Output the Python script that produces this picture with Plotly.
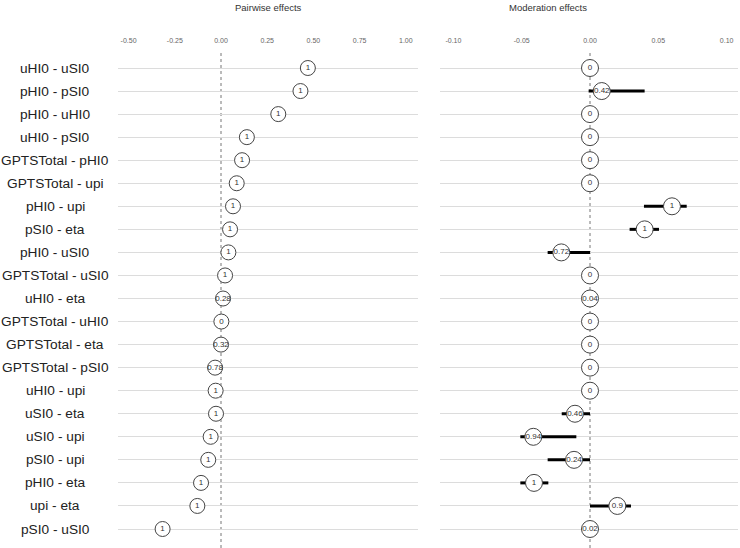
import plotly.graph_objects as go

W, H = 740, 548

pairs = ["uHI0 - uSI0", "pHI0 - pSI0", "pHI0 - uHI0", "uHI0 - pSI0", "GPTSTotal - pHI0",
         "GPTSTotal - upi", "pHI0 - upi", "pSI0 - eta", "pHI0 - uSI0", "GPTSTotal - uSI0",
         "uHI0 - eta", "GPTSTotal - uHI0", "GPTSTotal - eta", "GPTSTotal - pSI0", "uHI0 - upi",
         "uSI0 - eta", "uSI0 - upi", "pSI0 - upi", "pHI0 - eta", "upi - eta", "pSI0 - uSI0"]

pair_est = [0.47, 0.43, 0.31, 0.14, 0.114, 0.085, 0.065, 0.049, 0.04, 0.022,
            0.011, 0.002, 0.0, -0.032, -0.029, -0.027, -0.056, -0.069, -0.108, -0.128, -0.316]
pair_lab = ["1", "1", "1", "1", "1", "1", "1", "1", "1", "1",
            "0.28", "0", "0.32", "0.78", "1", "1", "1", "1", "1", "1", "1"]

mod_est = [0.0, 0.0086, 0.0, 0.0, 0.0, 0.0, 0.060, 0.040, -0.021, 0.0,
           0.0, 0.0, 0.0, 0.0, 0.0, -0.011, -0.0415, -0.0117, -0.041, 0.020, 0.0]
mod_lo = [0.0, -0.001, 0.0, 0.0, 0.0, 0.0, 0.0395, 0.029, -0.031, 0.0,
          0.0, 0.0, 0.0, 0.0, 0.0, -0.0207, -0.051, -0.031, -0.051, 0.0, 0.0]
mod_hi = [0.0, 0.040, 0.0, 0.0, 0.0, 0.0, 0.0708, 0.0505, 0.0, 0.0,
          0.0, 0.0, 0.0, 0.0, 0.0, 0.0, -0.010, 0.0, -0.0305, 0.030, 0.0]
mod_lab = ["0", "0.42", "0", "0", "0", "0", "1", "1", "0.72", "0",
           "0.04", "0", "0", "0", "0", "0.46", "0.94", "0.24", "1", "0.9", "0.02"]

left_ticks = [-0.5, -0.25, 0.0, 0.25, 0.5, 0.75, 1.0]
right_ticks = [-0.10, -0.05, 0.0, 0.05, 0.10]

FONT = "Liberation Sans, Arial, sans-serif"
n = len(pairs)
ys = list(range(n))

fig = go.Figure()

# Moderation CI segments
seg_x, seg_y = [], []
for i in range(n):
    if mod_hi[i] != mod_lo[i]:
        seg_x += [mod_lo[i], mod_hi[i], None]
        seg_y += [i, i, None]
fig.add_trace(go.Scatter(x=seg_x, y=seg_y, mode="lines", line=dict(color="black", width=3),
                         xaxis="x2", yaxis="y2", hoverinfo="skip", showlegend=False))

fig.add_trace(go.Scatter(
    x=pair_est, y=ys, mode="markers+text", text=pair_lab, textposition="middle center",
    textfont=dict(size=8, color="#333", family=FONT),
    marker=dict(size=15, color="white", line=dict(color="#444", width=1)),
    xaxis="x", yaxis="y", showlegend=False))

fig.add_trace(go.Scatter(
    x=mod_est, y=ys, mode="markers+text", text=mod_lab, textposition="middle center",
    textfont=dict(size=8, color="#333", family=FONT),
    marker=dict(size=17, color="white", line=dict(color="#444", width=1)),
    xaxis="x2", yaxis="y2", showlegend=False))

top_px, bot_px = 48, 548
ydom = [1 - bot_px / H, 1 - top_px / H]
spacing = 23.05
yrange = [20 + (bot_px - 529) / spacing, -(68 - top_px) / spacing]

def xpx(p):
    return p / W

common_y = dict(domain=ydom, range=yrange, tickvals=ys, showticklabels=False,
                showgrid=True, gridcolor="#dcdcdc", gridwidth=1, zeroline=False, ticks="")
common_x = dict(side="top", showgrid=False, zeroline=False, ticks="", showline=False,
                ticklabelstandoff=3,
                tickfont=dict(size=7, color="#666", family=FONT))

fig.update_layout(
    width=W, height=H, margin=dict(l=0, r=0, t=0, b=0),
    paper_bgcolor="white", plot_bgcolor="white",
    font=dict(family=FONT),
    xaxis=dict(domain=[xpx(118), xpx(418)], range=[-103 / 184.8, 197 / 184.8],
               tickvals=left_ticks, ticktext=[f"{v:.2f}" for v in left_ticks], anchor="y", **common_x),
    yaxis=dict(anchor="x", **common_y),
    xaxis2=dict(domain=[xpx(440), xpx(738)], range=[-150 / 1366, 148 / 1366],
                tickvals=right_ticks, ticktext=[f"{v:.2f}" for v in right_ticks], anchor="y2", **common_x),
    yaxis2=dict(anchor="x2", **common_y),
    shapes=[
        dict(type="line", xref="x", yref="y domain", x0=0, x1=0, y0=0, y1=0.995,
             line=dict(color="#777", width=1, dash="3px,3px"), layer="below"),
        dict(type="line", xref="x2", yref="y2 domain", x0=0, x1=0, y0=0, y1=0.995,
             line=dict(color="#777", width=1, dash="3px,3px"), layer="below"),
    ],
)

annotations = [
    dict(text="Pairwise effects", x=xpx(268), y=1 - 7 / H, xref="paper", yref="paper",
         yanchor="middle", showarrow=False, font=dict(size=9.5, color="#333", family=FONT)),
    dict(text="Moderation effects", x=xpx(589), y=1 - 7 / H, xref="paper", yref="paper",
         yanchor="middle", showarrow=False, font=dict(size=9.5, color="#333", family=FONT)),
]
for i, p in enumerate(pairs):
    annotations.append(dict(text=p, x=xpx(55), y=i, xref="paper", yref="y", xanchor="center",
                            showarrow=False, font=dict(size=13.7, color="#222", family=FONT)))
fig.update_layout(annotations=annotations)

fig.write_html("out.html", config={"displayModeBar": False},
               post_script="document.body.style.margin='0';")
